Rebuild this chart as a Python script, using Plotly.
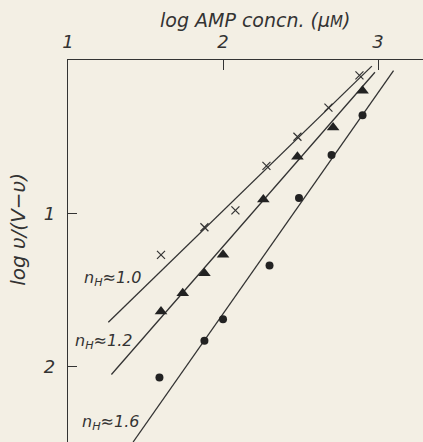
import plotly.graph_objects as go

# log [AMP] (µM) and log v/(V-v) for three conditions
cross_x = [1.60, 1.88, 2.08, 2.28, 2.48, 2.68, 2.88]
cross_y = [1.27, 1.09, 0.98, 0.69, 0.50, 0.31, 0.10]

tri_x = [1.60, 1.74, 1.88, 2.00, 2.26, 2.48, 2.71, 2.90]
tri_y = [1.64, 1.52, 1.39, 1.27, 0.91, 0.63, 0.44, 0.20]

circ_x = [1.59, 1.88, 2.00, 2.30, 2.49, 2.70, 2.90]
circ_y = [2.07, 1.83, 1.69, 1.34, 0.90, 0.62, 0.36]

# fitted Hill lines (end points)
fit1_x = [1.26, 2.96]
fit1_y = [1.71, 0.04]
fit2_x = [1.28, 2.98]
fit2_y = [2.05, 0.08]
fit3_x = [1.42, 3.10]
fit3_y = [2.49, 0.07]

hill_labels = ["n<sub>H</sub>≈1.0", "n<sub>H</sub>≈1.2", "n<sub>H</sub>≈1.6"]
label_x = [1.284, 1.232, 1.277]
label_y = [1.423, 1.834, 2.362]

x_ticks = [1, 2, 3]
y_ticks = [1, 2]

INK = "#333333"
BG = "#f3efe4"
FONT = "DejaVu Sans, sans-serif"

fig = go.Figure()

for fx, fy in [(fit1_x, fit1_y), (fit2_x, fit2_y), (fit3_x, fit3_y)]:
    fig.add_trace(go.Scatter(x=fx, y=fy, mode="lines",
                             line=dict(color=INK, width=1.3),
                             showlegend=False, hoverinfo="skip"))

fig.add_trace(go.Scatter(x=cross_x, y=cross_y, mode="markers",
                         marker=dict(symbol="x-thin", size=8,
                                     line=dict(color=INK, width=1.2)),
                         showlegend=False))
fig.add_trace(go.Scatter(x=tri_x, y=tri_y, mode="markers",
                         marker=dict(symbol="triangle-up", size=11, color="#222222"),
                         showlegend=False))
fig.add_trace(go.Scatter(x=circ_x, y=circ_y, mode="markers",
                         marker=dict(symbol="circle", size=8, color="#222222"),
                         showlegend=False))

for txt, lx, ly in zip(hill_labels, label_x, label_y):
    fig.add_annotation(x=lx, y=ly, text=txt, showarrow=False,
                       xanchor="center", yanchor="middle",
                       font=dict(family=FONT, size=16, color=INK, style="italic"))

# axis titles placed as free text
fig.add_annotation(xref="paper", yref="paper", x=0.2535, y=1.105,
                   text="log AMP concn. (µ<span style='font-size:15px'>M</span>)",
                   showarrow=False, xanchor="left", yanchor="middle",
                   font=dict(family=FONT, size=19, color=INK, style="italic"))
fig.add_annotation(xref="paper", yref="paper", x=-0.141, y=0.558,
                   text="log υ/(V−υ)", textangle=-90,
                   showarrow=False, xanchor="center", yanchor="middle",
                   font=dict(family=FONT, size=20, color=INK, style="italic"))

fig.update_xaxes(range=[1.0, 3.29], side="top", showline=True, linecolor=INK,
                 linewidth=1.3, showgrid=False, zeroline=False,
                 tickvals=x_ticks, ticks="inside", ticklen=10, tickcolor=INK,
                 tickwidth=1.2, ticklabelstandoff=4,
                 tickfont=dict(family=FONT, size=18, color=INK, style="italic"))
fig.update_yaxes(range=[2.49, 0.0], showline=True, linecolor=INK,
                 linewidth=1.3, showgrid=False, zeroline=False,
                 tickvals=y_ticks, ticks="inside", ticklen=9, tickcolor=INK,
                 tickwidth=1.2, ticklabelstandoff=8,
                 tickfont=dict(family=FONT, size=18, color=INK, style="italic"))

fig.update_layout(width=423, height=442,
                  margin=dict(l=68, r=0, t=60, b=0),
                  paper_bgcolor=BG, plot_bgcolor=BG)

fig.write_html("out.html")
